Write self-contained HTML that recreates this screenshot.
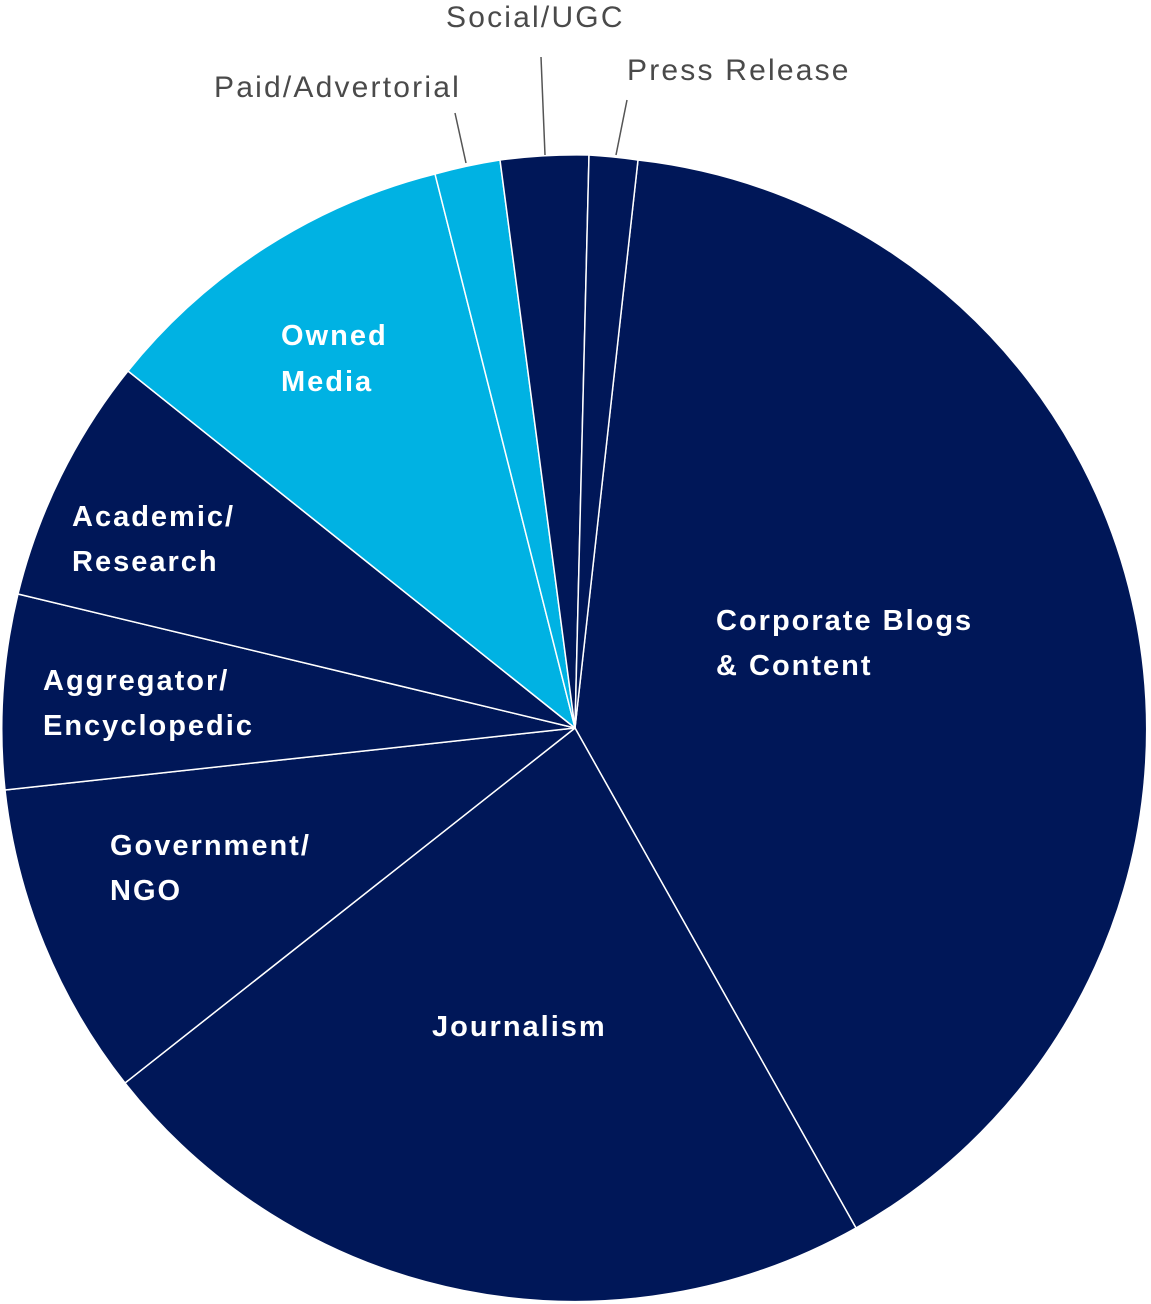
<!DOCTYPE html>
<html><head><meta charset="utf-8"><style>
html,body{margin:0;padding:0;background:#fff;}
svg{display:block;}
text{font-family:"Liberation Sans",sans-serif;}
.w{fill:#fff;font-weight:bold;font-size:29px;letter-spacing:2px;}
.g{fill:#4a4a4a;font-size:30px;letter-spacing:2.2px;}
</style></head><body>
<svg width="1151" height="1304" viewBox="0 0 1151 1304" xmlns="http://www.w3.org/2000/svg">
<g stroke="#fff" stroke-width="1.5" stroke-linejoin="round">
<path d="M575,728 L638,160 A573,573 0 0 1 856,1228 Z" fill="#001758"/>
<path d="M575,728 L856,1228 A573,573 0 0 1 125,1083 Z" fill="#001758"/>
<path d="M575,728 L125,1083 A573,573 0 0 1 5,790 Z" fill="#001758"/>
<path d="M575,728 L5,790 A573,573 0 0 1 18,594 Z" fill="#001758"/>
<path d="M575,728 L18,594 A573,573 0 0 1 128,371 Z" fill="#001758"/>
<path d="M575,728 L128,371 A573,573 0 0 1 435,174 Z" fill="#00B2E3"/>
<path d="M575,728 L435,174 A573,573 0 0 1 500,160 Z" fill="#00B2E3"/>
<path d="M575,728 L500,160 A573,573 0 0 1 589,155 Z" fill="#001758"/>
<path d="M575,728 L589,155 A573,573 0 0 1 638,160 Z" fill="#001758"/>
</g>
<g stroke="#555" stroke-width="1.5">
<line x1="455" y1="113" x2="466" y2="163"/>
<line x1="541" y1="57" x2="545" y2="155"/>
<line x1="627" y1="100" x2="616" y2="155"/>
</g>
<text class="g" x="214" y="97">Paid/Advertorial</text>
<text class="g" x="446" y="27">Social/UGC</text>
<text class="g" x="627" y="80">Press Release</text>
<text class="w" x="281" y="345">Owned</text>
<text class="w" x="281" y="391">Media</text>
<text class="w" x="72" y="526">Academic/</text>
<text class="w" x="72" y="571">Research</text>
<text class="w" x="43" y="690">Aggregator/</text>
<text class="w" x="43" y="735">Encyclopedic</text>
<text class="w" x="110" y="855">Government/</text>
<text class="w" x="110" y="900">NGO</text>
<text class="w" x="432" y="1036">Journalism</text>
<text class="w" x="716" y="630">Corporate Blogs</text>
<text class="w" x="716" y="675">&amp; Content</text>
</svg>
</body></html>
